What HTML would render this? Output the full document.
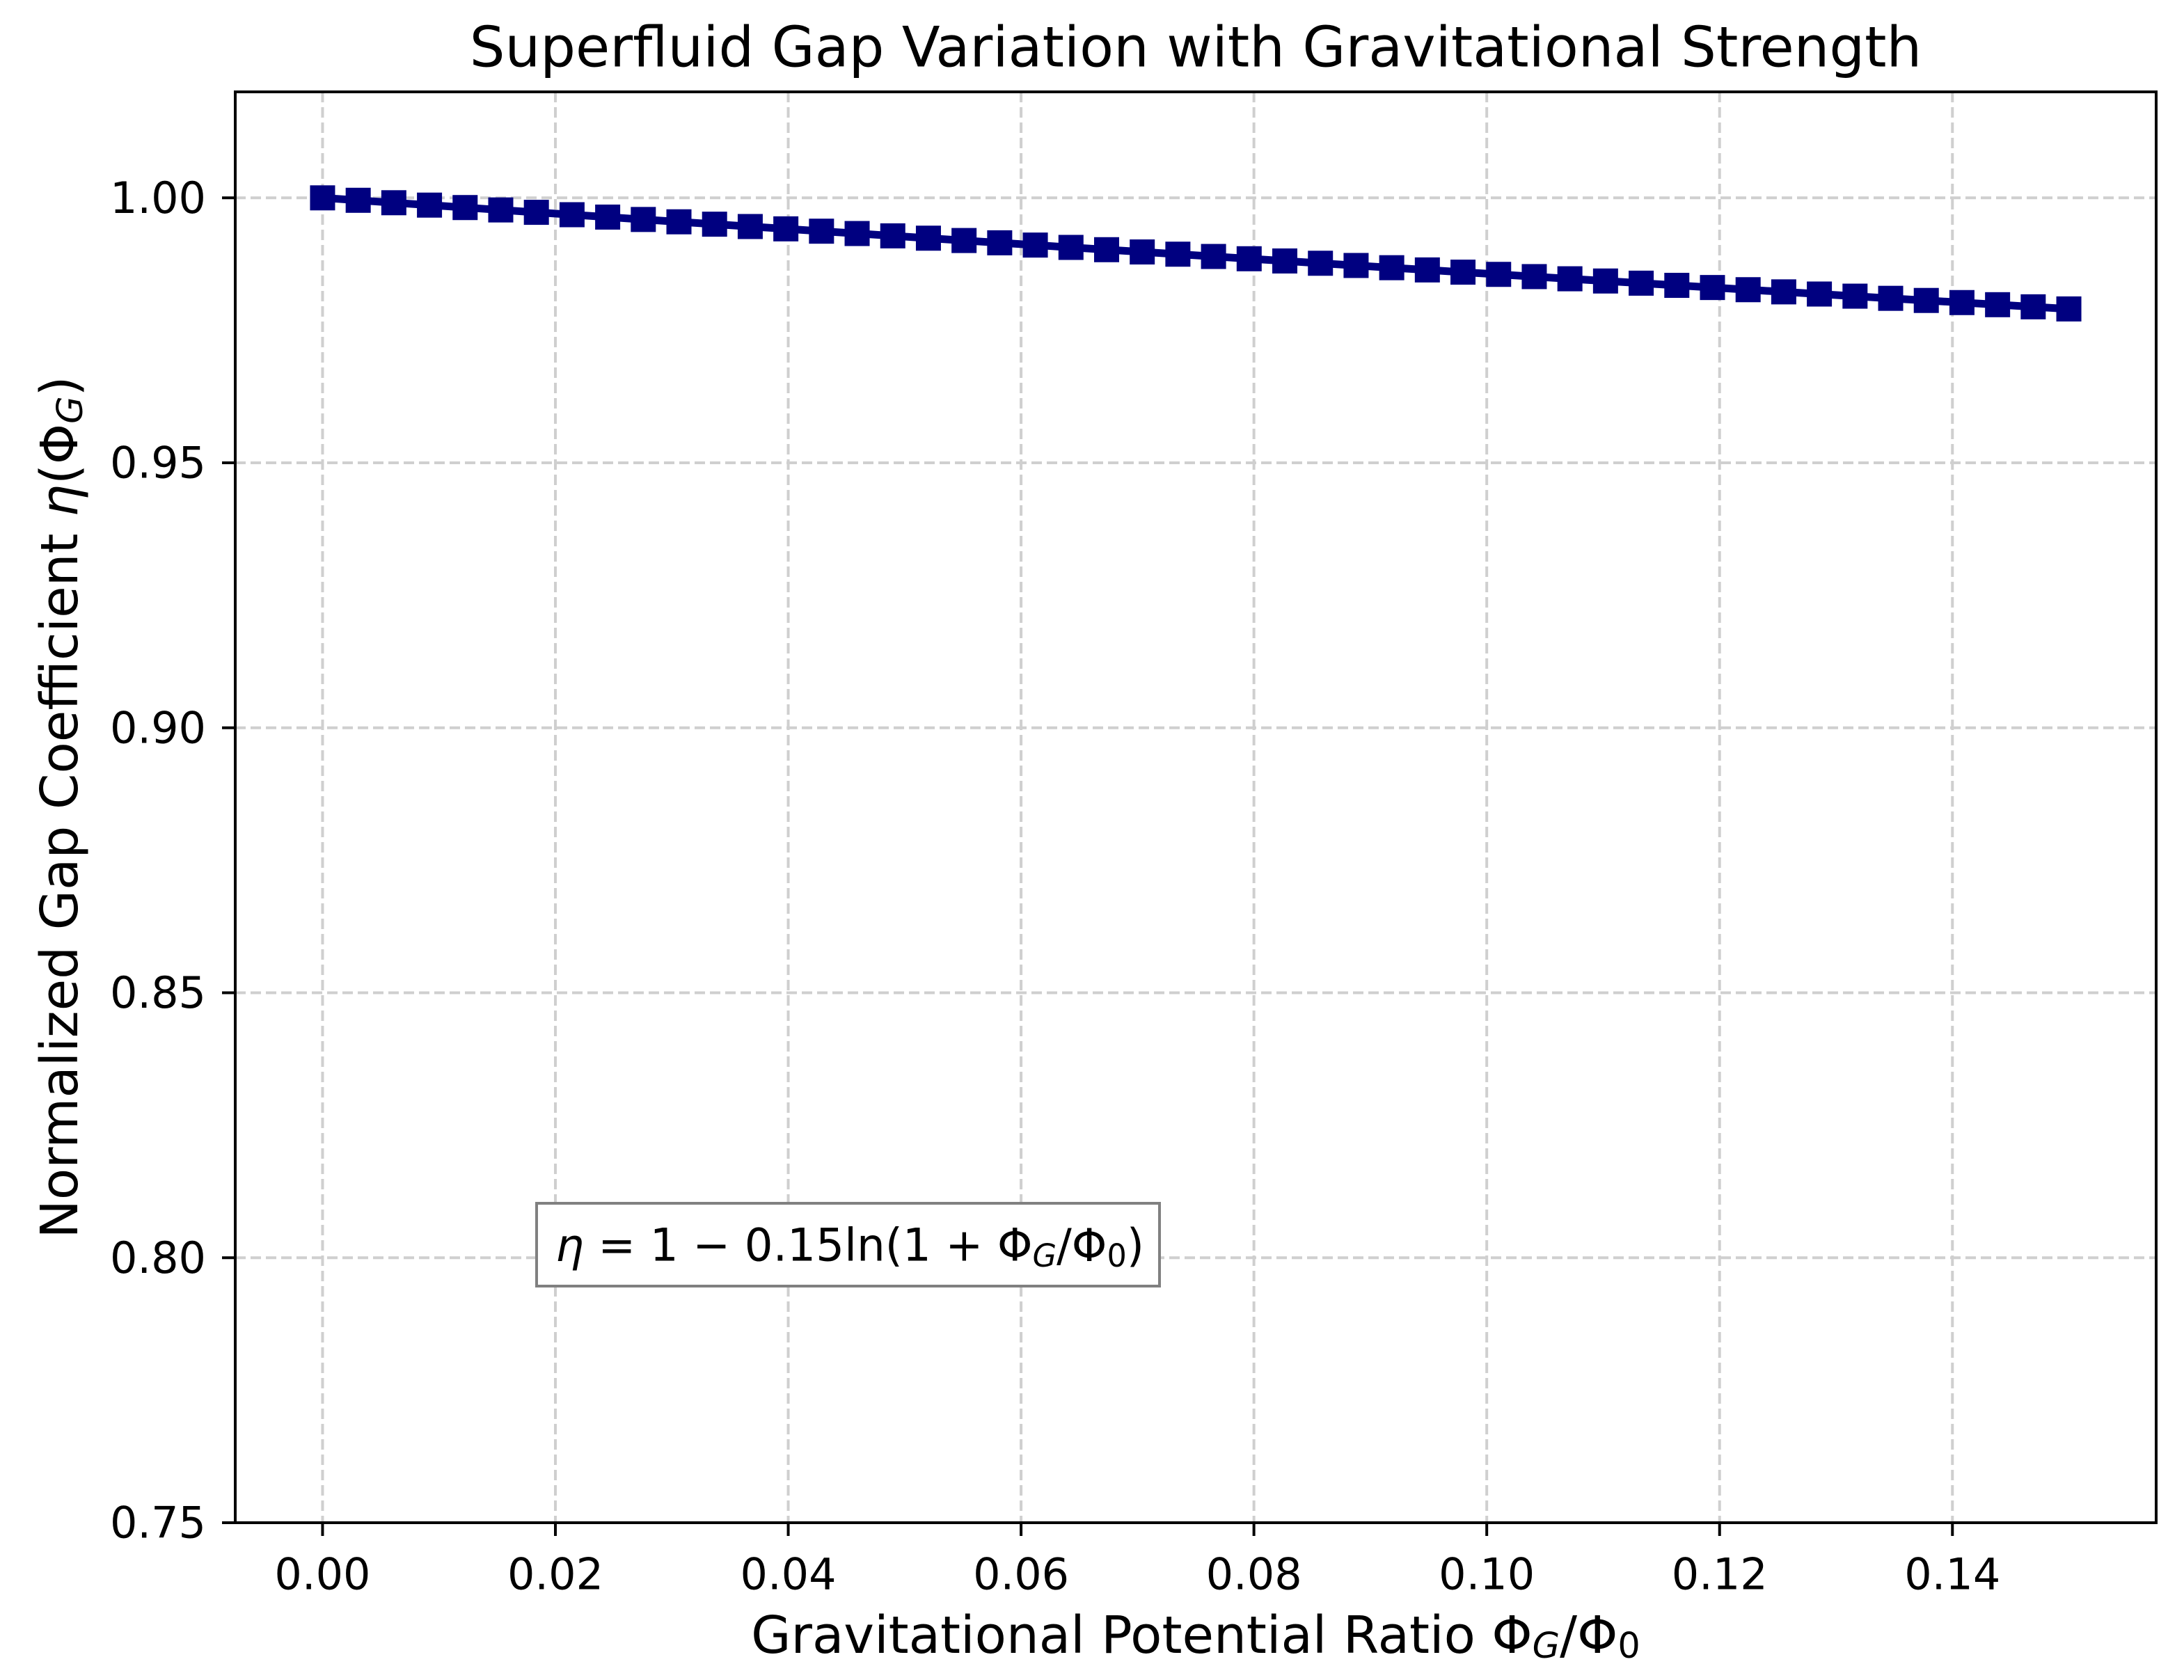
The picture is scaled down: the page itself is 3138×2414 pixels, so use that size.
<!DOCTYPE html>
<html><head><meta charset="utf-8"><style>
html,body{margin:0;padding:0;background:#fff;}
svg{display:block;font-family:"DejaVu Sans","Liberation Sans",sans-serif;}
</style></head><body>
<svg id="chart" width="3138" height="2414" viewBox="0 0 3138 2414">
<rect width="3138" height="2414" fill="#fff"/>
<g id="grid"></g>
<g id="series"></g>
<rect x="338" y="132" width="2760" height="2056" fill="none" stroke="#000" stroke-width="4"/>
<g id="ticks"></g>
<text x="1718" y="68" font-size="80" text-anchor="middle" dominant-baseline="central">Superfluid Gap Variation with Gravitational Strength</text>
<text x="1718" y="2350" font-size="74" text-anchor="middle" dominant-baseline="central">Gravitational Potential Ratio Φ<tspan font-style="italic" font-size="51" dy="15">G</tspan><tspan dy="-15">/Φ</tspan><tspan font-size="51" dy="15">0</tspan></text>
<text transform="translate(86,1160) rotate(-90)" font-size="74" text-anchor="middle" dominant-baseline="central">Normalized Gap Coefficient <tspan font-style="italic">η</tspan>(Φ<tspan font-style="italic" font-size="51" dy="15">G</tspan><tspan dy="-15">)</tspan></text>
<g>
<rect x="771" y="1729" width="895" height="119" fill="#fff" stroke="#808080" stroke-width="4"/>
<text x="798" y="1790" font-size="65" dominant-baseline="central" textLength="846" lengthAdjust="spacingAndGlyphs"><tspan font-style="italic">η</tspan> = 1 − 0.15ln(1 + Φ<tspan font-style="italic" font-size="45" dy="14">G</tspan><tspan dy="-14">/Φ</tspan><tspan font-size="45" dy="14">0</tspan><tspan dy="-14">)</tspan></text>
</g>
</svg>
<script>
const xValues = [0,0.003061,0.006122,0.009184,0.012245,0.015306,0.018367,0.021429,0.02449,0.027551,0.030612,0.033673,0.036735,0.039796,0.042857,0.045918,0.04898,0.052041,0.055102,0.058163,0.061224,0.064286,0.067347,0.070408,0.073469,0.076531,0.079592,0.082653,0.085714,0.088776,0.091837,0.094898,0.097959,0.10102,0.104082,0.107143,0.110204,0.113265,0.116327,0.119388,0.122449,0.12551,0.128571,0.131633,0.134694,0.137755,0.140816,0.143878,0.146939,0.15];
const etaValues = [1.0,0.99954,0.99908,0.99863,0.99817,0.99772,0.99727,0.99682,0.99637,0.99592,0.99548,0.99503,0.99459,0.99415,0.99371,0.99327,0.99283,0.99239,0.99195,0.99152,0.99109,0.99065,0.99022,0.98979,0.98937,0.98894,0.98851,0.98809,0.98766,0.98724,0.98682,0.9864,0.98598,0.98556,0.98514,0.98473,0.98431,0.9839,0.98349,0.98308,0.98267,0.98226,0.98185,0.98145,0.98104,0.98064,0.98024,0.97984,0.97944,0.97904];
const xTicks = [0,0.02,0.04,0.06,0.08,0.10,0.12,0.14];
const xTickLabels = ["0.00","0.02","0.04","0.06","0.08","0.10","0.12","0.14"];
const yTicks = [0.75,0.80,0.85,0.90,0.95,1.00];
const yTickLabels = ["0.75","0.80","0.85","0.90","0.95","1.00"];

const L=338,R=3098,T=132,B=2188;
const xMin=-0.0075,xMax=0.1575,yMin=0.75,yMax=1.02;
const sx=v=>L+(v-xMin)/(xMax-xMin)*(R-L);
const sy=v=>B-(v-yMin)/(yMax-yMin)*(B-T);
const NS="http://www.w3.org/2000/svg";
function mk(tag,attrs,parent){const e=document.createElementNS(NS,tag);for(const k in attrs)e.setAttribute(k,attrs[k]);parent.appendChild(e);return e;}
const grid=document.getElementById('grid'),ticks=document.getElementById('ticks'),series=document.getElementById('series');
xTicks.forEach((v,i)=>{
  const x=sx(v);
  const g=mk('line',{x1:x,x2:x,y1:T,y2:B,stroke:'#cfcfcf','stroke-width':4,'stroke-dasharray':'15 7'},grid);
  
  
  const t=mk('line',{x1:x,x2:x,y1:B,y2:B+19,stroke:'#000','stroke-width':4},ticks);
  
  
  const lb=mk('text',{x:x,y:2262,'font-size':62,'text-anchor':'middle','dominant-baseline':'central'},ticks);
  lb.textContent=xTickLabels[i];
  
  
});
yTicks.forEach((v,i)=>{
  const y=sy(v);
  const g=mk('line',{x1:L,x2:R,y1:y,y2:y,stroke:'#cfcfcf','stroke-width':4,'stroke-dasharray':'15 7'},grid);
  
  
  const t=mk('line',{x1:L-19,x2:L,y1:y,y2:y,stroke:'#000','stroke-width':4},ticks);
  
  
  const lb=mk('text',{x:296,y:y,'font-size':62,'text-anchor':'end','dominant-baseline':'central'},ticks);
  lb.textContent=yTickLabels[i];
  
  
});
const pts=xValues.map((v,i)=>sx(v).toFixed(1)+','+sy(etaValues[i]).toFixed(1)).join(' ');
const line=mk('polyline',{points:pts,fill:'none',stroke:'#000080','stroke-width':11},series);


xValues.forEach((v,i)=>{
  const m=mk('rect',{x:sx(v)-18,y:sy(etaValues[i])-18,width:36,height:36,fill:'#000080'},series);
  
  
});
</script>
</body></html>
